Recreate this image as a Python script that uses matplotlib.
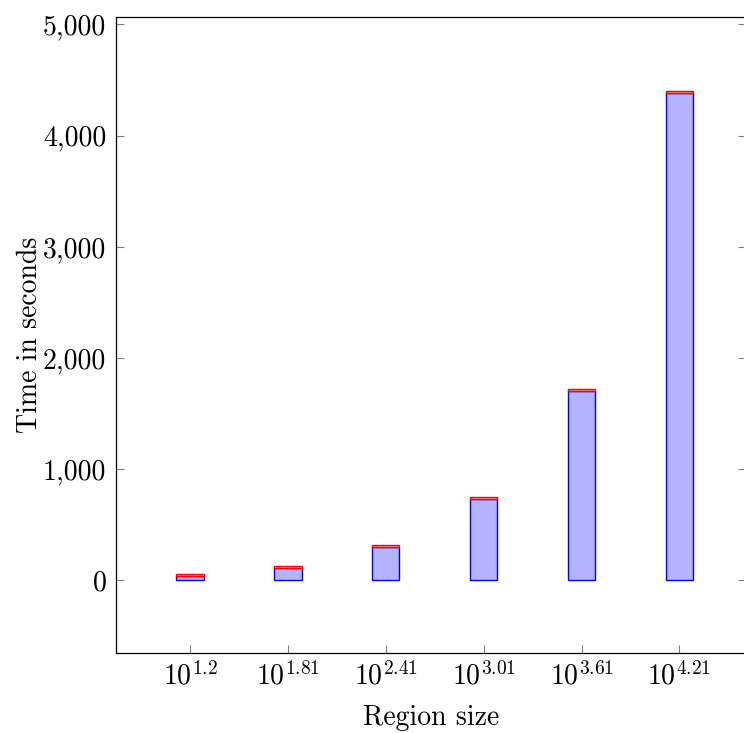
import matplotlib.pyplot as plt
from matplotlib.ticker import FuncFormatter

plt.rcParams['font.family'] = 'cmr10'
plt.rcParams['mathtext.fontset'] = 'cm'
plt.rcParams['axes.formatter.use_mathtext'] = True

# Run time per region size, split into two stacked phases
exponents = ['1.2', '1.81', '2.41', '3.01', '3.61', '4.21']
phase_main = [35, 105, 295, 730, 1700, 4385]
phase_extra = [16, 18, 18, 18, 18, 18]

labels = [f'$10^{{{e}}}$' for e in exponents]
pos = list(range(len(exponents)))

fig = plt.figure(figsize=(7.44, 7.33), dpi=100)
ax = fig.add_axes([0.1559, 0.1087, 0.8468, 0.8685])

w = 0.28
ax.bar(pos, phase_main, width=w, color='#b3b3ff', edgecolor='#0000ff',
       linewidth=1.0)
ax.bar(pos, phase_extra, width=w, bottom=phase_main, color='#ffb3b3',
       edgecolor='#ff0000', linewidth=1.0)

ax.set_xlim(-0.756, 5.68)
ax.set_ylim(-660, 5070)
ax.set_xticks(pos)
ax.set_xticklabels(labels)
ax.set_yticks([0, 1000, 2000, 3000, 4000, 5000])
ax.yaxis.set_major_formatter(FuncFormatter(lambda v, _: f'{int(v):,}'))

ax.tick_params(direction='in', length=6, width=0.8, color='#808080',
               labelsize=20, top=False, right=True, pad=7)
ax.tick_params(axis='x', pad=6)
for s in ax.spines.values():
    s.set_linewidth(0.9)

ax.set_xlabel('Region size', fontsize=20, labelpad=10)
ax.set_ylabel('Time in seconds', fontsize=20, labelpad=0)

fig.savefig('out.png', dpi=100)
